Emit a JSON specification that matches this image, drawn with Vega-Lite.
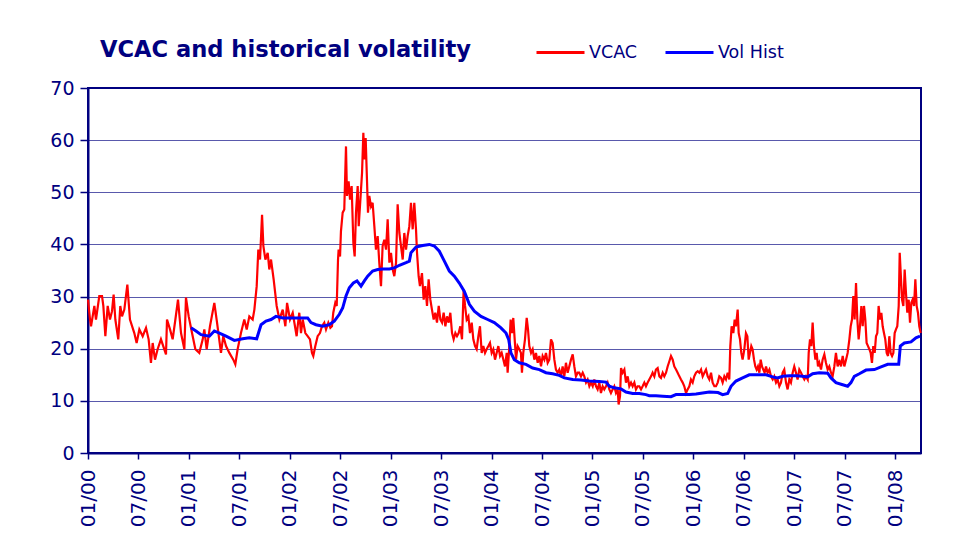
{
  "$schema": "https://vega.github.io/schema/vega-lite/v6.json",
  "width": 833,
  "height": 365,
  "autosize": {"type": "none"},
  "padding": {"left": 88, "top": 88, "right": 57, "bottom": 104},
  "background": "white",
  "title": {
    "text": "VCAC and historical volatility",
    "anchor": "start",
    "frame": "group",
    "dx": 12,
    "offset": 0,
    "dy": 53,
    "baseline": "alphabetic",
    "font": "DejaVu Sans",
    "fontSize": 22.6,
    "fontWeight": "bold",
    "color": "#000080"
  },
  "datasets": {
    "vcac": [
      {"year":2000.000,"vol":29.4},{"year":2000.020,"vol":25.6},{"year":2000.030,"vol":24.3},{"year":2000.063,"vol":28.2},{"year":2000.079,"vol":25.6},{"year":2000.112,"vol":30.1},{"year":2000.139,"vol":30.1},{"year":2000.152,"vol":28.2},{"year":2000.172,"vol":22.4},{"year":2000.195,"vol":28.2},{"year":2000.218,"vol":25.6},{"year":2000.238,"vol":27.2},{"year":2000.254,"vol":30.4},{"year":2000.271,"vol":25.6},{"year":2000.300,"vol":21.8},{"year":2000.320,"vol":28.2},{"year":2000.337,"vol":26.2},{"year":2000.360,"vol":27.5},{"year":2000.390,"vol":32.3},{"year":2000.416,"vol":25.6},{"year":2000.459,"vol":23.0},{"year":2000.482,"vol":21.1},{"year":2000.509,"vol":23.7},{"year":2000.542,"vol":22.4},{"year":2000.575,"vol":24.0},{"year":2000.601,"vol":21.8},{"year":2000.624,"vol":17.3},{"year":2000.641,"vol":21.1},{"year":2000.664,"vol":17.9},{"year":2000.690,"vol":19.9},{"year":2000.723,"vol":21.8},{"year":2000.773,"vol":18.9},{"year":2000.783,"vol":25.6},{"year":2000.813,"vol":23.7},{"year":2000.839,"vol":21.8},{"year":2000.866,"vol":25.6},{"year":2000.892,"vol":29.4},{"year":2000.922,"vol":23.0},{"year":2000.955,"vol":19.9},{"year":2000.971,"vol":29.8},{"year":2000.998,"vol":26.2},
      {"year":2001.031,"vol":23.0},{"year":2001.064,"vol":19.9},{"year":2001.103,"vol":19.2},{"year":2001.137,"vol":21.8},{"year":2001.153,"vol":23.7},{"year":2001.176,"vol":19.9},{"year":2001.209,"vol":24.3},{"year":2001.252,"vol":28.8},{"year":2001.279,"vol":25.0},{"year":2001.318,"vol":19.2},{"year":2001.341,"vol":22.4},{"year":2001.368,"vol":20.5},{"year":2001.401,"vol":19.2},{"year":2001.440,"vol":17.9},{"year":2001.460,"vol":17.0},{"year":2001.483,"vol":19.9},{"year":2001.516,"vol":23.0},{"year":2001.549,"vol":25.6},{"year":2001.573,"vol":23.7},{"year":2001.599,"vol":26.2},{"year":2001.632,"vol":25.6},{"year":2001.649,"vol":27.5},{"year":2001.672,"vol":32.0},{"year":2001.688,"vol":39.0},{"year":2001.705,"vol":37.1},{"year":2001.725,"vol":45.7},{"year":2001.738,"vol":39.7},{"year":2001.758,"vol":37.1},{"year":2001.781,"vol":38.4},{"year":2001.797,"vol":35.2},{"year":2001.814,"vol":37.1},{"year":2001.840,"vol":33.3},{"year":2001.870,"vol":28.2},{"year":2001.897,"vol":25.6},{"year":2001.930,"vol":27.5},{"year":2001.956,"vol":24.3},{"year":2001.973,"vol":28.8},
      {"year":2002.002,"vol":25.6},{"year":2002.029,"vol":26.9},{"year":2002.068,"vol":22.4},{"year":2002.078,"vol":24.3},{"year":2002.094,"vol":26.9},{"year":2002.111,"vol":23.0},{"year":2002.128,"vol":25.6},{"year":2002.154,"vol":23.0},{"year":2002.177,"vol":22.4},{"year":2002.200,"vol":21.8},{"year":2002.220,"vol":19.2},{"year":2002.233,"vol":18.6},{"year":2002.253,"vol":20.5},{"year":2002.276,"vol":22.4},{"year":2002.299,"vol":23.0},{"year":2002.319,"vol":24.3},{"year":2002.342,"vol":25.0},{"year":2002.359,"vol":23.7},{"year":2002.382,"vol":25.0},{"year":2002.402,"vol":24.0},{"year":2002.418,"vol":24.3},{"year":2002.431,"vol":26.9},{"year":2002.451,"vol":28.8},{"year":2002.465,"vol":28.2},{"year":2002.478,"vol":37.1},{"year":2002.484,"vol":39.0},{"year":2002.498,"vol":37.7},{"year":2002.507,"vol":42.5},{"year":2002.524,"vol":46.1},{"year":2002.540,"vol":46.7},{"year":2002.557,"vol":58.8},{"year":2002.567,"vol":49.3},{"year":2002.583,"vol":52.1},{"year":2002.597,"vol":48.6},{"year":2002.613,"vol":51.2},{"year":2002.630,"vol":40.3},{"year":2002.643,"vol":37.7},{"year":2002.656,"vol":46.1},{"year":2002.673,"vol":51.2},{"year":2002.683,"vol":43.5},{"year":2002.702,"vol":49.3},{"year":2002.716,"vol":53.7},{"year":2002.729,"vol":61.4},{"year":2002.739,"vol":56.3},{"year":2002.752,"vol":60.4},{"year":2002.765,"vol":52.4},{"year":2002.775,"vol":46.1},{"year":2002.788,"vol":49.3},{"year":2002.805,"vol":47.3},{"year":2002.821,"vol":48.0},{"year":2002.838,"vol":43.5},{"year":2002.854,"vol":39.0},{"year":2002.871,"vol":41.6},{"year":2002.887,"vol":36.5},{"year":2002.904,"vol":32.0},{"year":2002.920,"vol":39.7},{"year":2002.937,"vol":40.9},{"year":2002.954,"vol":39.0},{"year":2002.970,"vol":44.8},{"year":2002.987,"vol":36.5},
      {"year":2003.003,"vol":38.4},{"year":2003.020,"vol":35.2},{"year":2003.036,"vol":33.9},{"year":2003.053,"vol":36.5},{"year":2003.069,"vol":47.7},{"year":2003.086,"vol":42.2},{"year":2003.102,"vol":39.7},{"year":2003.119,"vol":37.1},{"year":2003.135,"vol":42.2},{"year":2003.152,"vol":39.0},{"year":2003.168,"vol":41.6},{"year":2003.185,"vol":43.5},{"year":2003.201,"vol":48.0},{"year":2003.218,"vol":42.9},{"year":2003.234,"vol":48.0},{"year":2003.251,"vol":42.9},{"year":2003.261,"vol":38.4},{"year":2003.277,"vol":33.9},{"year":2003.290,"vol":32.0},{"year":2003.310,"vol":34.5},{"year":2003.327,"vol":29.4},{"year":2003.343,"vol":32.0},{"year":2003.360,"vol":28.2},{"year":2003.376,"vol":33.3},{"year":2003.393,"vol":29.4},{"year":2003.409,"vol":27.5},{"year":2003.426,"vol":25.6},{"year":2003.442,"vol":26.9},{"year":2003.459,"vol":25.0},{"year":2003.476,"vol":28.2},{"year":2003.492,"vol":25.6},{"year":2003.509,"vol":25.0},{"year":2003.525,"vol":26.9},{"year":2003.542,"vol":24.3},{"year":2003.558,"vol":26.2},{"year":2003.575,"vol":25.0},{"year":2003.591,"vol":26.9},{"year":2003.608,"vol":23.0},{"year":2003.624,"vol":21.8},{"year":2003.641,"vol":23.0},{"year":2003.657,"vol":22.4},{"year":2003.674,"vol":23.0},{"year":2003.690,"vol":24.3},{"year":2003.707,"vol":21.8},{"year":2003.723,"vol":31.3},{"year":2003.737,"vol":28.2},{"year":2003.753,"vol":25.6},{"year":2003.770,"vol":26.2},{"year":2003.786,"vol":23.0},{"year":2003.803,"vol":25.0},{"year":2003.819,"vol":21.8},{"year":2003.836,"vol":20.5},{"year":2003.852,"vol":19.9},{"year":2003.869,"vol":22.4},{"year":2003.885,"vol":24.3},{"year":2003.902,"vol":19.2},{"year":2003.918,"vol":20.5},{"year":2003.935,"vol":19.2},{"year":2003.951,"vol":19.9},{"year":2003.968,"vol":20.5},{"year":2003.984,"vol":21.1},
      {"year":2004.001,"vol":19.2},{"year":2004.017,"vol":19.9},{"year":2004.034,"vol":17.9},{"year":2004.050,"vol":19.2},{"year":2004.067,"vol":20.5},{"year":2004.084,"vol":18.6},{"year":2004.100,"vol":19.2},{"year":2004.117,"vol":17.9},{"year":2004.133,"vol":16.6},{"year":2004.150,"vol":19.2},{"year":2004.159,"vol":15.4},{"year":2004.176,"vol":20.5},{"year":2004.189,"vol":25.6},{"year":2004.202,"vol":23.0},{"year":2004.215,"vol":25.9},{"year":2004.229,"vol":21.8},{"year":2004.242,"vol":17.9},{"year":2004.258,"vol":20.5},{"year":2004.275,"vol":19.9},{"year":2004.291,"vol":19.2},{"year":2004.301,"vol":15.4},{"year":2004.314,"vol":19.2},{"year":2004.331,"vol":21.8},{"year":2004.348,"vol":25.9},{"year":2004.361,"vol":23.7},{"year":2004.374,"vol":20.5},{"year":2004.391,"vol":19.2},{"year":2004.407,"vol":19.9},{"year":2004.424,"vol":17.9},{"year":2004.440,"vol":19.2},{"year":2004.457,"vol":17.3},{"year":2004.473,"vol":18.6},{"year":2004.490,"vol":16.6},{"year":2004.506,"vol":18.6},{"year":2004.523,"vol":17.9},{"year":2004.539,"vol":19.2},{"year":2004.556,"vol":17.3},{"year":2004.572,"vol":17.9},{"year":2004.589,"vol":21.8},{"year":2004.605,"vol":21.1},{"year":2004.622,"vol":17.9},{"year":2004.638,"vol":16.0},{"year":2004.655,"vol":15.4},{"year":2004.671,"vol":16.0},{"year":2004.688,"vol":14.7},{"year":2004.704,"vol":16.6},{"year":2004.721,"vol":14.7},{"year":2004.737,"vol":17.3},{"year":2004.754,"vol":15.4},{"year":2004.770,"vol":16.6},{"year":2004.787,"vol":17.9},{"year":2004.804,"vol":18.9},{"year":2004.820,"vol":16.6},{"year":2004.836,"vol":14.7},{"year":2004.853,"vol":15.4},{"year":2004.869,"vol":15.4},{"year":2004.886,"vol":14.7},{"year":2004.903,"vol":15.4},{"year":2004.919,"vol":14.7},{"year":2004.936,"vol":13.5},{"year":2004.952,"vol":14.1},{"year":2004.969,"vol":12.8},{"year":2004.985,"vol":13.5},
      {"year":2005.002,"vol":12.8},{"year":2005.018,"vol":14.1},{"year":2005.035,"vol":12.8},{"year":2005.051,"vol":12.2},{"year":2005.068,"vol":13.5},{"year":2005.084,"vol":11.5},{"year":2005.101,"vol":12.8},{"year":2005.117,"vol":12.2},{"year":2005.134,"vol":12.8},{"year":2005.150,"vol":13.5},{"year":2005.167,"vol":12.2},{"year":2005.183,"vol":11.5},{"year":2005.200,"vol":12.2},{"year":2005.216,"vol":12.8},{"year":2005.233,"vol":11.5},{"year":2005.250,"vol":12.2},{"year":2005.259,"vol":9.3},{"year":2005.273,"vol":10.9},{"year":2005.283,"vol":16.3},{"year":2005.299,"vol":15.4},{"year":2005.316,"vol":16.0},{"year":2005.332,"vol":13.5},{"year":2005.349,"vol":14.7},{"year":2005.365,"vol":12.8},{"year":2005.382,"vol":13.5},{"year":2005.398,"vol":12.8},{"year":2005.415,"vol":13.5},{"year":2005.431,"vol":12.2},{"year":2005.448,"vol":12.8},{"year":2005.464,"vol":12.8},{"year":2005.481,"vol":12.2},{"year":2005.497,"vol":12.8},{"year":2005.514,"vol":13.5},{"year":2005.530,"vol":12.8},{"year":2005.547,"vol":13.5},{"year":2005.563,"vol":14.1},{"year":2005.580,"vol":14.7},{"year":2005.596,"vol":15.4},{"year":2005.613,"vol":14.7},{"year":2005.629,"vol":16.0},{"year":2005.646,"vol":16.3},{"year":2005.663,"vol":14.7},{"year":2005.679,"vol":14.4},{"year":2005.696,"vol":15.4},{"year":2005.712,"vol":14.7},{"year":2005.729,"vol":15.4},{"year":2005.745,"vol":16.6},{"year":2005.762,"vol":17.6},{"year":2005.778,"vol":18.6},{"year":2005.795,"vol":17.9},{"year":2005.811,"vol":16.6},{"year":2005.828,"vol":16.0},{"year":2005.844,"vol":15.4},{"year":2005.861,"vol":14.7},{"year":2005.877,"vol":14.1},{"year":2005.894,"vol":13.5},{"year":2005.910,"vol":12.8},{"year":2005.927,"vol":11.5},{"year":2005.943,"vol":12.2},{"year":2005.960,"vol":12.8},{"year":2005.976,"vol":14.1},{"year":2005.993,"vol":13.5},
      {"year":2006.009,"vol":14.7},{"year":2006.026,"vol":15.4},{"year":2006.043,"vol":15.7},{"year":2006.059,"vol":15.4},{"year":2006.076,"vol":16.0},{"year":2006.092,"vol":14.7},{"year":2006.109,"vol":15.4},{"year":2006.125,"vol":16.0},{"year":2006.142,"vol":14.7},{"year":2006.158,"vol":14.1},{"year":2006.175,"vol":15.4},{"year":2006.191,"vol":13.5},{"year":2006.208,"vol":12.8},{"year":2006.224,"vol":12.8},{"year":2006.241,"vol":13.5},{"year":2006.257,"vol":14.7},{"year":2006.274,"vol":14.4},{"year":2006.290,"vol":13.5},{"year":2006.307,"vol":14.7},{"year":2006.323,"vol":14.1},{"year":2006.340,"vol":15.4},{"year":2006.356,"vol":14.1},{"year":2006.366,"vol":20.5},{"year":2006.379,"vol":24.3},{"year":2006.396,"vol":23.0},{"year":2006.409,"vol":25.6},{"year":2006.422,"vol":24.3},{"year":2006.439,"vol":27.5},{"year":2006.449,"vol":23.0},{"year":2006.462,"vol":21.8},{"year":2006.475,"vol":19.2},{"year":2006.488,"vol":17.9},{"year":2006.505,"vol":19.9},{"year":2006.521,"vol":23.0},{"year":2006.535,"vol":22.4},{"year":2006.548,"vol":17.9},{"year":2006.561,"vol":19.2},{"year":2006.574,"vol":20.5},{"year":2006.587,"vol":19.9},{"year":2006.601,"vol":17.9},{"year":2006.614,"vol":16.6},{"year":2006.627,"vol":16.0},{"year":2006.640,"vol":16.6},{"year":2006.654,"vol":15.4},{"year":2006.667,"vol":17.9},{"year":2006.680,"vol":16.6},{"year":2006.693,"vol":16.0},{"year":2006.706,"vol":15.4},{"year":2006.720,"vol":16.6},{"year":2006.736,"vol":15.4},{"year":2006.753,"vol":16.0},{"year":2006.769,"vol":14.7},{"year":2006.786,"vol":14.1},{"year":2006.802,"vol":14.7},{"year":2006.819,"vol":13.5},{"year":2006.835,"vol":14.1},{"year":2006.852,"vol":12.8},{"year":2006.868,"vol":13.5},{"year":2006.885,"vol":15.4},{"year":2006.901,"vol":16.0},{"year":2006.918,"vol":13.5},{"year":2006.934,"vol":12.2},{"year":2006.951,"vol":14.1},{"year":2006.967,"vol":13.5},{"year":2006.984,"vol":15.4},
      {"year":2007.000,"vol":16.6},{"year":2007.017,"vol":15.4},{"year":2007.033,"vol":14.1},{"year":2007.050,"vol":16.0},{"year":2007.067,"vol":15.4},{"year":2007.083,"vol":14.7},{"year":2007.100,"vol":14.1},{"year":2007.116,"vol":14.7},{"year":2007.133,"vol":14.1},{"year":2007.143,"vol":19.2},{"year":2007.156,"vol":21.8},{"year":2007.169,"vol":20.5},{"year":2007.182,"vol":25.0},{"year":2007.195,"vol":20.5},{"year":2007.209,"vol":17.9},{"year":2007.222,"vol":19.2},{"year":2007.235,"vol":16.6},{"year":2007.248,"vol":17.3},{"year":2007.265,"vol":16.0},{"year":2007.281,"vol":17.9},{"year":2007.298,"vol":18.9},{"year":2007.314,"vol":17.3},{"year":2007.331,"vol":16.0},{"year":2007.347,"vol":16.6},{"year":2007.364,"vol":15.4},{"year":2007.380,"vol":14.7},{"year":2007.397,"vol":16.6},{"year":2007.413,"vol":19.2},{"year":2007.430,"vol":16.6},{"year":2007.446,"vol":17.9},{"year":2007.463,"vol":16.6},{"year":2007.480,"vol":18.6},{"year":2007.496,"vol":16.6},{"year":2007.513,"vol":17.9},{"year":2007.529,"vol":19.2},{"year":2007.546,"vol":21.8},{"year":2007.559,"vol":24.3},{"year":2007.572,"vol":25.6},{"year":2007.585,"vol":30.1},{"year":2007.598,"vol":25.6},{"year":2007.612,"vol":32.6},{"year":2007.625,"vol":25.6},{"year":2007.638,"vol":21.8},{"year":2007.651,"vol":24.3},{"year":2007.665,"vol":28.2},{"year":2007.678,"vol":24.3},{"year":2007.691,"vol":28.2},{"year":2007.704,"vol":25.6},{"year":2007.717,"vol":21.1},{"year":2007.731,"vol":20.5},{"year":2007.744,"vol":19.9},{"year":2007.757,"vol":19.2},{"year":2007.770,"vol":17.3},{"year":2007.783,"vol":20.5},{"year":2007.797,"vol":19.2},{"year":2007.810,"vol":22.4},{"year":2007.823,"vol":23.0},{"year":2007.836,"vol":28.2},{"year":2007.850,"vol":25.6},{"year":2007.863,"vol":26.9},{"year":2007.876,"vol":24.3},{"year":2007.889,"vol":23.0},{"year":2007.902,"vol":21.8},{"year":2007.916,"vol":19.2},{"year":2007.929,"vol":18.6},{"year":2007.942,"vol":22.4},{"year":2007.955,"vol":19.2},{"year":2007.969,"vol":18.6},{"year":2007.982,"vol":19.2},{"year":2007.995,"vol":23.0},
      {"year":2008.008,"vol":23.7},{"year":2008.021,"vol":24.3},{"year":2008.035,"vol":28.2},{"year":2008.045,"vol":38.4},{"year":2008.058,"vol":33.3},{"year":2008.068,"vol":29.4},{"year":2008.081,"vol":28.2},{"year":2008.094,"vol":35.2},{"year":2008.107,"vol":30.7},{"year":2008.120,"vol":26.9},{"year":2008.134,"vol":29.4},{"year":2008.147,"vol":25.0},{"year":2008.160,"vol":28.8},{"year":2008.173,"vol":29.4},{"year":2008.187,"vol":28.2},{"year":2008.200,"vol":33.3},{"year":2008.213,"vol":28.2},{"year":2008.226,"vol":26.9},{"year":2008.239,"vol":24.3},{"year":2008.253,"vol":23.0}
    ],
    "hist": [
      {"year":2001.021,"vol":24.0},{"year":2001.070,"vol":23.4},{"year":2001.120,"vol":22.7},{"year":2001.203,"vol":22.4},{"year":2001.252,"vol":23.4},{"year":2001.302,"vol":23.0},{"year":2001.368,"vol":22.4},{"year":2001.450,"vol":21.6},{"year":2001.533,"vol":21.9},{"year":2001.599,"vol":22.1},{"year":2001.672,"vol":21.9},{"year":2001.715,"vol":24.6},{"year":2001.764,"vol":25.3},{"year":2001.814,"vol":25.6},{"year":2001.863,"vol":26.2},{"year":2001.930,"vol":25.9},{"year":2001.996,"vol":25.9},{"year":2002.081,"vol":25.9},{"year":2002.177,"vol":25.9},{"year":2002.210,"vol":25.0},{"year":2002.260,"vol":24.6},{"year":2002.326,"vol":24.3},{"year":2002.392,"vol":24.6},{"year":2002.441,"vol":25.3},{"year":2002.491,"vol":26.6},{"year":2002.524,"vol":27.8},{"year":2002.557,"vol":30.1},{"year":2002.590,"vol":31.7},{"year":2002.630,"vol":32.6},{"year":2002.666,"vol":33.0},{"year":2002.706,"vol":32.0},{"year":2002.739,"vol":33.0},{"year":2002.772,"vol":33.9},{"year":2002.821,"vol":34.9},{"year":2002.871,"vol":35.2},{"year":2002.920,"vol":35.3},{"year":2002.987,"vol":35.3},{"year":2003.036,"vol":35.5},{"year":2003.086,"vol":36.0},{"year":2003.152,"vol":36.5},{"year":2003.185,"vol":36.8},{"year":2003.201,"vol":38.4},{"year":2003.251,"vol":39.5},{"year":2003.317,"vol":39.8},{"year":2003.383,"vol":40.0},{"year":2003.433,"vol":39.7},{"year":2003.482,"vol":38.7},{"year":2003.532,"vol":36.8},{"year":2003.581,"vol":34.9},{"year":2003.631,"vol":33.9},{"year":2003.680,"vol":32.6},{"year":2003.730,"vol":31.0},{"year":2003.780,"vol":28.5},{"year":2003.829,"vol":27.2},{"year":2003.895,"vol":26.2},{"year":2003.961,"vol":25.6},{"year":2004.027,"vol":25.0},{"year":2004.093,"vol":24.0},{"year":2004.143,"vol":23.0},{"year":2004.169,"vol":21.8},{"year":2004.192,"vol":19.2},{"year":2004.225,"vol":17.9},{"year":2004.275,"vol":17.3},{"year":2004.341,"vol":17.0},{"year":2004.407,"vol":16.3},{"year":2004.473,"vol":16.0},{"year":2004.539,"vol":15.4},{"year":2004.605,"vol":15.2},{"year":2004.671,"vol":14.9},{"year":2004.721,"vol":14.4},{"year":2004.804,"vol":14.1},{"year":2004.886,"vol":14.0},{"year":2004.969,"vol":13.8},{"year":2005.068,"vol":13.7},{"year":2005.134,"vol":13.6},{"year":2005.167,"vol":12.8},{"year":2005.216,"vol":12.5},{"year":2005.283,"vol":12.3},{"year":2005.332,"vol":11.7},{"year":2005.398,"vol":11.4},{"year":2005.464,"vol":11.4},{"year":2005.530,"vol":11.2},{"year":2005.563,"vol":11.0},{"year":2005.629,"vol":11.0},{"year":2005.696,"vol":10.9},{"year":2005.778,"vol":10.8},{"year":2005.828,"vol":11.2},{"year":2005.894,"vol":11.2},{"year":2005.960,"vol":11.2},{"year":2006.026,"vol":11.3},{"year":2006.092,"vol":11.5},{"year":2006.158,"vol":11.7},{"year":2006.244,"vol":11.6},{"year":2006.290,"vol":11.2},{"year":2006.340,"vol":11.4},{"year":2006.373,"vol":12.8},{"year":2006.422,"vol":13.8},{"year":2006.488,"vol":14.4},{"year":2006.554,"vol":15.0},{"year":2006.620,"vol":15.0},{"year":2006.720,"vol":15.0},{"year":2006.786,"vol":14.6},{"year":2006.835,"vol":14.4},{"year":2006.885,"vol":14.7},{"year":2006.951,"vol":14.8},{"year":2007.017,"vol":14.8},{"year":2007.083,"vol":14.7},{"year":2007.133,"vol":14.6},{"year":2007.182,"vol":15.2},{"year":2007.248,"vol":15.4},{"year":2007.331,"vol":15.3},{"year":2007.364,"vol":14.4},{"year":2007.413,"vol":13.5},{"year":2007.480,"vol":13.1},{"year":2007.529,"vol":12.8},{"year":2007.562,"vol":13.5},{"year":2007.595,"vol":14.7},{"year":2007.645,"vol":15.2},{"year":2007.711,"vol":15.9},{"year":2007.794,"vol":16.0},{"year":2007.860,"vol":16.5},{"year":2007.926,"vol":17.0},{"year":2008.008,"vol":17.0},{"year":2008.035,"vol":17.0},{"year":2008.051,"vol":20.5},{"year":2008.091,"vol":21.1},{"year":2008.157,"vol":21.3},{"year":2008.206,"vol":22.1},{"year":2008.246,"vol":22.4}
    ]
  },
  "encoding": {
    "x": {
      "field": "year",
      "type": "quantitative",
      "scale": {"domain": [2000, 2008.256], "nice": false, "zero": false},
      "axis": {
        "title": null,
        "grid": false,
        "values": [2000, 2000.5, 2001, 2001.5, 2002, 2002.5, 2003, 2003.5, 2004, 2004.5, 2005, 2005.5, 2006, 2006.5, 2007, 2007.5, 2008],
        "labelExpr": "(datum.value % 1 == 0 ? '01/' : '07/') + format(floor(datum.value) % 100, '02d')",
        "labelAngle": -90,
        "labelFontSize": 20,
        "labelPadding": 10,
        "tickSize": 6,
        "labelOverlap": false,
        "labelFlush": false
      }
    },
    "y": {
      "field": "vol",
      "type": "quantitative",
      "scale": {"domain": [0, 70], "nice": false},
      "axis": {
        "title": null,
        "grid": true,
        "gridColor": "#000080",
        "gridOpacity": 0.65,
        "gridWidth": 1,
        "values": [0, 10, 20, 30, 40, 50, 60, 70],
        "labelFontSize": 19,
        "labelPadding": 6,
        "tickSize": 8
      }
    }
  },
  "layer": [
    {
      "data": {"name": "vcac"},
      "mark": {"type": "line", "strokeWidth": 2.2},
      "encoding": {
        "color": {
          "datum": "VCAC",
          "type": "nominal",
          "scale": {"domain": ["VCAC", "Vol Hist"], "range": ["#ff0000", "#0000ff"]},
          "legend": {
            "title": null,
            "orient": "none",
            "legendX": 447,
            "legendY": -61,
            "direction": "horizontal",
            "symbolType": "stroke",
            "symbolSize": 2304,
            "symbolStrokeWidth": 3,
            "labelFont": "DejaVu Sans",
            "labelFontSize": 17.5,
            "labelColor": "#000080",
            "labelOffset": 3,
            "columnPadding": 21,
            "padding": 0
          }
        }
      }
    },
    {
      "data": {"name": "hist"},
      "mark": {"type": "line", "strokeWidth": 3},
      "encoding": {
        "color": {"datum": "Vol Hist", "type": "nominal"}
      }
    }
  ],
  "config": {
    "view": {"stroke": "#000080", "strokeWidth": 2},
    "axis": {
      "domainColor": "#000080",
      "domainWidth": 2,
      "tickColor": "#000080",
      "tickWidth": 1.5,
      "labelColor": "#000080",
      "labelFont": "DejaVu Sans"
    }
  }
}
